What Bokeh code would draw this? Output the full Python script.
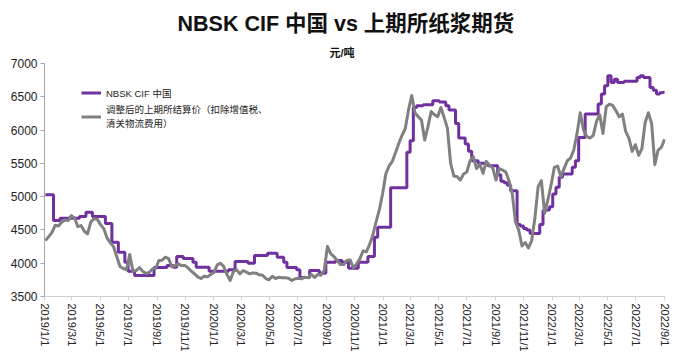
import math
import pandas as pd
from bokeh.plotting import figure
from bokeh.models import (FixedTicker, Legend, LegendItem, Title, Range1d,
                          ColumnDataSource)
from bokeh.embed import file_html
from bokeh.resources import INLINE

# ---------------- data ----------------
title_text = "NBSK CIF 中国 vs 上期所纸浆期货"
unit_text = "元/吨"
series_names = ["NBSK CIF 中国", "调整后的上期所结算价（扣除增值税、\n清关物流费用）"]
start_date = "2019-01-03"     # weekly observations
tick_labels = ["2019/1/1", "2019/3/1", "2019/5/1", "2019/7/1", "2019/9/1", "2019/11/1",
               "2020/1/1", "2020/3/1", "2020/5/1", "2020/7/1", "2020/9/1", "2020/11/1",
               "2021/1/1", "2021/3/1", "2021/5/1", "2021/7/1", "2021/9/1", "2021/11/1",
               "2022/1/1", "2022/3/1", "2022/5/1", "2022/7/1", "2022/9/1"]
y_ticks = [3500, 4000, 4500, 5000, 5500, 6000, 6500, 7000]

nbsk_cif = [
    5030, 5030, 5030, 4640, 4640, 4675, 4675, 4675, 4675, 4675,
    4675, 4700, 4700, 4765, 4765, 4700, 4700, 4700, 4700, 4595,
    4595, 4315, 4315, 4165, 4165, 4015, 3880, 3880, 3815, 3815,
    3815, 3815, 3815, 3815, 3935, 3935, 3935, 3935, 3965, 3965,
    3940, 4100, 4100, 4070, 4070, 4070, 4015, 3940, 3940, 3940,
    3940, 3880, 3880, 3880, 3880, 3880, 3880, 3900, 3900, 4025,
    4025, 4025, 4025, 4000, 4000, 4115, 4115, 4115, 4115, 4150,
    4150, 4150, 4090, 4090, 4015, 3935, 3935, 3935, 3900, 3785,
    3785, 3785, 3890, 3890, 3890, 3850, 3850, 4015, 4015, 4015,
    4040, 4040, 4015, 4015, 3925, 3925, 3925, 4015, 4015, 4015,
    4100, 4100, 4390, 4540, 4540, 4540, 4540, 5135, 5135, 5135,
    5135, 5135, 5665, 5840, 6340, 6365, 6365, 6380, 6380, 6380,
    6440, 6440, 6420, 6420, 6365, 6300, 6300, 6100, 5880, 5880,
    5790, 5680, 5540, 5540, 5500, 5500, 5500, 5465, 5465, 5465,
    5330, 5230, 5210, 5170, 5090, 5090, 4580, 4560, 4520, 4500,
    4445, 4445, 4445, 4580, 4790, 4800, 4850, 5040, 5140, 5290,
    5340, 5340, 5340, 5440, 5540, 5890, 5890, 6240, 6240, 6240,
    6240, 6390, 6540, 6665, 6815, 6715, 6765, 6715, 6715, 6735,
    6735, 6735, 6735, 6790, 6815, 6790, 6790, 6640, 6600, 6540,
    6560, 6570,
]

shfe_adjusted = [
    4340, 4400, 4460, 4570, 4560, 4615, 4650, 4640, 4715, 4680,
    4550, 4565, 4480, 4440, 4620, 4670, 4660, 4580, 4520, 4380,
    4310, 4250, 4100, 3950, 3920, 3905, 4130, 3880, 3890, 3935,
    3880, 3845, 3860, 3915, 3920, 4040, 4045, 4090, 4070, 3945,
    3965, 3990, 3965, 3965, 3930, 3880, 3840, 3795, 3770, 3805,
    3795, 3830, 3860, 3975, 4000, 3950, 3830, 3740, 3875, 3900,
    3840, 3890, 3865, 3840, 3855, 3850, 3825, 3820, 3770, 3750,
    3805, 3770, 3790, 3782, 3780, 3775, 3742, 3765, 3775, 3765,
    3790, 3780, 3835, 3785, 3830, 3820, 3890, 4250, 4145, 4100,
    4040, 3980, 3980, 4040, 4050, 3930, 3990, 4065, 4185, 4170,
    4280, 4420, 4620, 4800, 5040, 5340, 5460, 5530, 5660, 5800,
    5920, 6020, 6300, 6520, 6260, 6200, 6150, 5850, 6050, 6280,
    6230, 6200, 6340, 6190, 6030, 5500, 5310, 5300, 5250, 5340,
    5370, 5540, 5600, 5420, 5490, 5350, 5530, 5470, 5430, 5250,
    5420, 5400, 5370, 5240, 5050, 4620, 4500, 4260, 4310, 4230,
    4340, 4680, 5150, 5240, 4750, 4950, 5180, 5440, 5460, 5300,
    5420, 5540, 5580, 5700, 5950, 6260, 6000, 5900, 5880, 5920,
    6130, 6230, 5950, 6350, 6390, 6370, 6290, 6200, 6240, 5980,
    5880, 5680, 5780, 5620, 5720, 6110, 6260, 6100, 5480, 5700,
    5740, 5860,
]

# ---------------- build ----------------
FONT = "Liberation Sans, Noto Sans CJK SC"
PURPLE = "#7030a0"
GREY = "#808080"

n = min(len(nbsk_cif), len(shfe_adjusted))
dates = pd.date_range(start_date, periods=n, freq="7D")
src = ColumnDataSource(data=dict(date=dates, nbsk=nbsk_cif[:n], shfe=shfe_adjusted[:n]))

p = figure(x_axis_type="datetime", title=None,
           width=684, height=354,
           x_range=Range1d(pd.Timestamp("2019-01-01"), pd.Timestamp("2022-09-03")),
           y_range=Range1d(y_ticks[0], y_ticks[-1]),
           output_backend="svg", toolbar_location=None,
           min_border_left=44, min_border_top=63, min_border_right=19,
           min_border_bottom=58)
p.outline_line_color = None
p.grid.visible = False
p.background_fill_color = "white"

r1 = p.step(x="date", y="nbsk", source=src, mode="center",
            line_color=PURPLE, line_width=3)
r2 = p.line(x="date", y="shfe", source=src, line_color=GREY,
            line_width=3, line_join="round")

# y axis
ya = p.yaxis[0]
ya.ticker = FixedTicker(ticks=y_ticks)
ya.axis_line_color = "#a6a6a6"
ya.major_tick_line_color = "#a6a6a6"
ya.major_tick_out = 4
ya.major_tick_in = 0
ya.minor_tick_line_color = None
ya.major_label_text_font = FONT
ya.major_label_text_font_size = "12px"
ya.major_label_text_color = "#222222"
ya.major_label_standoff = 3

# x axis
tick_ms = [pd.Timestamp(t.replace("/", "-")).value / 1e6 for t in tick_labels]
xa = p.xaxis[0]
xa.ticker = FixedTicker(ticks=tick_ms)
xa.major_label_overrides = {ms: lab for ms, lab in zip(tick_ms, tick_labels)}
xa.major_label_orientation = -math.pi / 2
xa.axis_line_color = "#d0d0d0"
xa.major_tick_line_color = "#d0d0d0"
xa.major_tick_out = 4
xa.major_tick_in = 0
xa.minor_tick_line_color = None
xa.major_label_text_font = FONT
xa.major_label_text_font_size = "11px"
xa.major_label_text_color = "#222222"
xa.major_label_standoff = 3

# legend
legend = Legend(items=[LegendItem(label=series_names[0], renderers=[r1]),
                       LegendItem(label=series_names[1], renderers=[r2])],
                location=(37, 166), padding=0, margin=0, spacing=0,
                glyph_width=20, glyph_height=19, label_height=19,
                label_standoff=5, label_text_font=FONT,
                label_text_font_size="9.5px", label_text_color="#222222",
                label_text_line_height=1.55,
                background_fill_alpha=0, border_line_color=None)
p.add_layout(legend)

# titles
sub = Title(text=unit_text, align="left", offset=285, text_font=FONT,
            text_font_size="11px", text_font_style="bold", text_color="#111111",
            standoff=10)
p.add_layout(sub, "above")
main = Title(text=title_text, align="left", offset=133, text_font=FONT,
             text_font_size="21.5px", text_font_style="bold", text_color="#111111",
             standoff=8)
p.add_layout(main, "above")

open("out.html", "w").write(file_html(p, INLINE))
